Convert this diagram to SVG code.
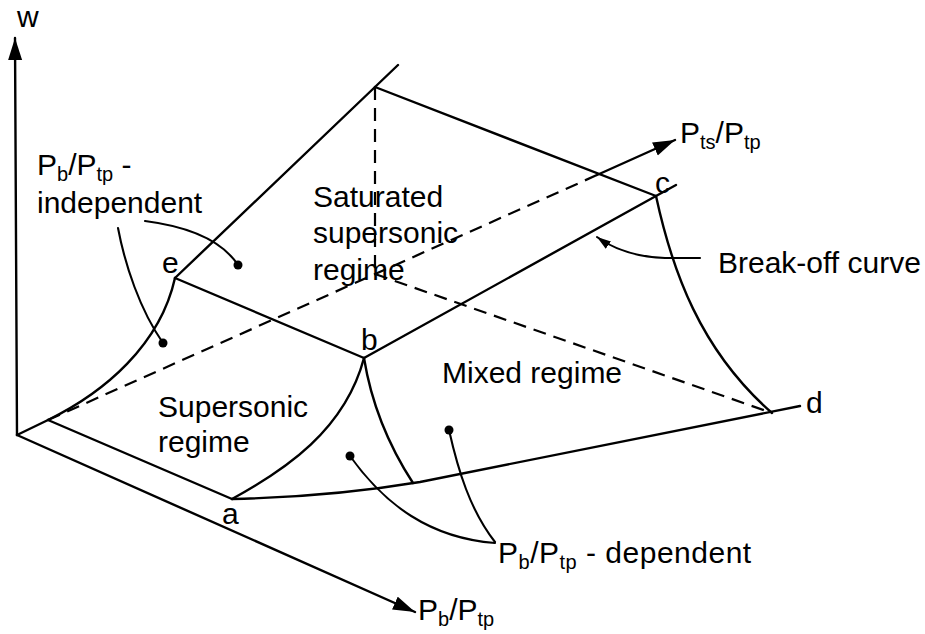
<svg xmlns="http://www.w3.org/2000/svg" width="925" height="634" viewBox="0 0 925 634">
<style>
.ln{fill:none;stroke:#000;stroke-width:2.4;stroke-linecap:round;stroke-linejoin:round}
.ld{fill:none;stroke:#000;stroke-width:2.1;stroke-linecap:round}
.ds{fill:none;stroke:#000;stroke-width:2.2;stroke-dasharray:13 8}
.dot{fill:#000}
text{font-family:"Liberation Sans",Arial,Helvetica,sans-serif;font-size:30px;fill:#000}
.sub{font-size:20px}
</style>
<defs>
<marker id="ah" markerUnits="userSpaceOnUse" markerWidth="24" markerHeight="16" refX="22" refY="7" orient="auto"><path d="M0,0 L22,7 L0,14 z" fill="#000"/></marker>
<marker id="sa" markerUnits="userSpaceOnUse" markerWidth="16" markerHeight="10" refX="14" refY="4.5" orient="auto"><path d="M0,0 L14,4.5 L0,9 z" fill="#000"/></marker>
</defs>
<rect width="925" height="634" fill="#fff"/>

<g id="axes">
<path class="ln" d="M17,435 L15,38" marker-end="url(#ah)"/>
<path class="ln" d="M17,435 L415,612" marker-end="url(#ah)"/>
<path class="ln" d="M17,435 L48,420"/>
<path class="ds" d="M48,420 L597,175"/>
<path class="ln" d="M597,175 L675,140" marker-end="url(#ah)"/>
<text id="lbl-w" x="17" y="27">w</text>
<text id="lbl-pts" x="680" y="143">P<tspan class="sub" dy="6">ts</tspan><tspan dy="-6">/P</tspan><tspan class="sub" dy="6">tp</tspan></text>
<text id="lbl-pb" x="418" y="620">P<tspan class="sub" dy="6">b</tspan><tspan dy="-6">/P</tspan><tspan class="sub" dy="6">tp</tspan></text>
</g>

<g id="surface">
<path class="ln" d="M48,420 L232,499"/>
<path class="ln" d="M175,278 L375,87 L398,65"/>
<path class="ln" d="M375,87 L656,196"/>
<path class="ln" d="M175,278 L364,358"/>
<path class="ln" d="M364,358 L656,196 L676,185"/>
<path class="ds" d="M375,87 L375,274"/>
<path class="ds" d="M375,274 L772,413"/>
<path class="ln" d="M232,499 Q330,497 420,482 L800,406"/>
<path class="ln" d="M232,499 C285,470 345,430 364,358"/>
<path class="ln" d="M364,358 C370,395 385,440 413,483"/>
<path class="ln" d="M48,420 C105,392 160,345 175,278"/>
<path class="ln" d="M656,196 C672,270 700,350 772,413"/>
</g>

<g id="points">
<text x="162" y="273">e</text>
<text x="361" y="350">b</text>
<text x="655" y="193">c</text>
<text x="806" y="413">d</text>
<text x="222" y="524">a</text>
</g>

<g id="regions">
<text x="313" y="207">Saturated</text>
<text x="313" y="243">supersonic</text>
<text x="313" y="280">regime</text>
<text x="158" y="417">Supersonic</text>
<text x="158" y="452">regime</text>
<text x="442" y="383">Mixed regime</text>
</g>

<g id="label-independent">
<text x="37" y="175">P<tspan class="sub" dy="6">b</tspan><tspan dy="-6">/P</tspan><tspan class="sub" dy="6">tp</tspan><tspan dy="-6"> -</tspan></text>
<text x="37" y="213">independent</text>
<path class="ld" d="M145,221 Q215,230 238,265"/>
<circle class="dot" cx="238" cy="265" r="4.5"/>
<path class="ld" d="M118,228 C125,265 140,310 163,343"/>
<circle class="dot" cx="163" cy="343" r="4.5"/>
</g>

<g id="label-dependent">
<text x="498" y="563" letter-spacing="0.5">P<tspan class="sub" dy="6">b</tspan><tspan dy="-6">/P</tspan><tspan class="sub" dy="6">tp</tspan><tspan dy="-6"> - dependent</tspan></text>
<path class="ld" d="M350,456 C385,505 430,538 495,543"/>
<circle class="dot" cx="350" cy="456" r="4.5"/>
<path class="ld" d="M449,430 C458,470 470,510 495,542"/>
<circle class="dot" cx="449" cy="430" r="4.5"/>
</g>

<g id="label-breakoff">
<text x="718" y="273">Break-off  curve</text>
<path class="ld" d="M700,258 L665,258 C640,257 615,250 597,237" marker-end="url(#sa)"/>
</g>
</svg>
